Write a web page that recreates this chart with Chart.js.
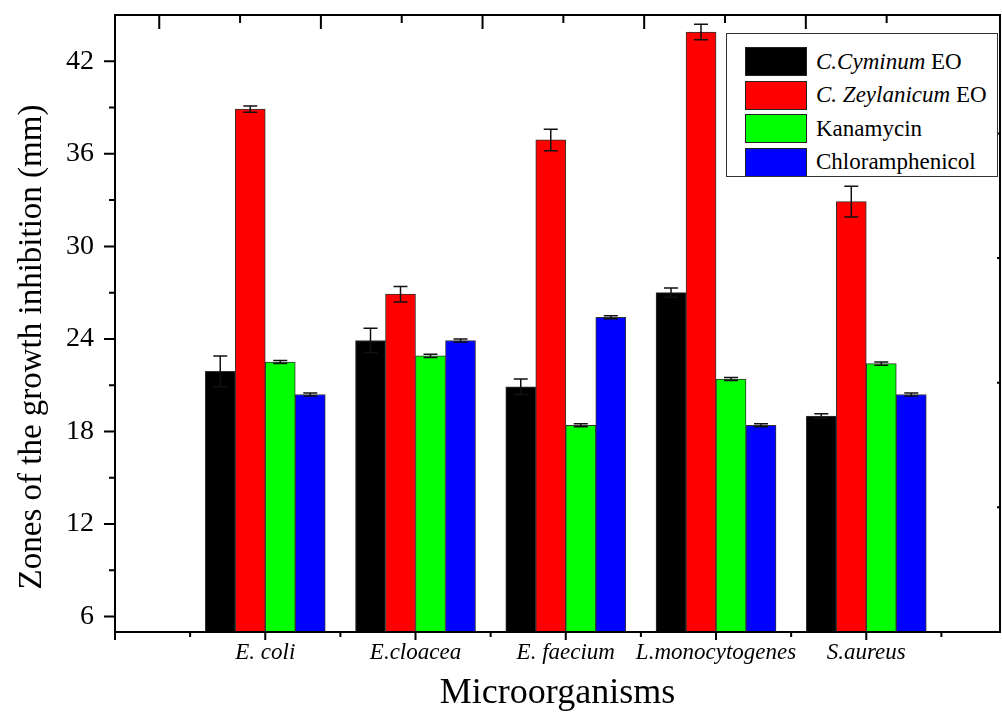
<!DOCTYPE html>
<html lang="en">
<head>
  <meta charset="UTF-8">
  <title>Zones of the growth inhibition</title>
  <script src="https://cdn.jsdelivr.net/npm/chart.js"></script>
  <style>
    body { margin: 0; background: #fff; }
    #wrap { position: relative; width: 1002px; height: 712px; overflow: hidden; }
    #chart { display: block; }
    #legend { position: absolute; left: 726px; top: 33px; width: 272px; height: 144px; box-sizing: border-box;
              border: 1px solid #333; background: #fff; overflow: hidden;
              font-family: 'Liberation Serif', 'Times New Roman', serif; font-size: 23px; color: #000; }
    .row { position: absolute; left: 18px; height: 29px; display: flex; align-items: center; white-space: nowrap; }
    .sw { width: 62px; height: 29px; box-sizing: border-box; border: 1.5px solid #222; margin-right: 9px; }
  </style>
</head>
<body>
  <div id="wrap">
    <canvas id="chart" width="1002" height="712"></canvas>
    <div id="legend"></div>
  </div>

  <script>
    // data
    const categories = ['E. coli', 'E.cloacea', 'E. faecium', 'L.monocytogenes', 'S.aureus'];
    const seriesLabels = ['<i>C.Cyminum</i> EO', '<i>C. Zeylanicum</i> EO', 'Kanamycin', 'Chloramphenicol'];
    const seriesColors = ['#000000', '#ff0000', '#00ff00', '#0000ff'];

    const cyminum = [21.9, 23.9, 20.9, 27.0, 19.0];
    const cyminumErr = [1.0, 0.8, 0.5, 0.3, 0.15];
    const zeylanicum = [38.9, 26.9, 36.9, 43.9, 32.9];
    const zeylanicumErr = [0.2, 0.5, 0.7, 0.5, 1.0];
    const kanamycin = [22.5, 22.9, 18.4, 21.4, 22.4];
    const kanamycinErr = [0.1, 0.1, 0.1, 0.1, 0.1];
    const chloramphenicol = [20.4, 23.9, 25.4, 18.4, 20.4];
    const chloramphenicolErr = [0.1, 0.1, 0.1, 0.1, 0.1];

    const values = [cyminum, zeylanicum, kanamycin, chloramphenicol];
    const errors = [cyminumErr, zeylanicumErr, kanamycinErr, chloramphenicolErr];

    const yTitle = 'Zones of the growth inhibition (mm)';
    const serif = "'Liberation Serif', 'Times New Roman', serif";

    // html legend, built from the series lists
    const legend = document.getElementById('legend');
    seriesLabels.forEach((lab, i) => {
      const row = document.createElement('div');
      row.className = 'row';
      row.style.top = (13 + i * 33.5) + 'px';
      row.innerHTML = '<span class="sw" style="background:' + seriesColors[i] + '"></span><span>' + lab + '</span>';
      legend.appendChild(row);
    });

    const errorBars = {
      id: 'errorBars',
      afterDatasetsDraw(chart) {
        const ctx = chart.ctx, y = chart.scales.y;
        ctx.save();
        ctx.strokeStyle = '#111';
        ctx.lineWidth = 1.5;
        chart.data.datasets.forEach((ds, i) => {
          chart.getDatasetMeta(i).data.forEach((bar, j) => {
            const v = values[i][j], e = errors[i][j];
            const top = y.getPixelForValue(v + e), bot = y.getPixelForValue(v - e);
            ctx.beginPath();
            ctx.moveTo(bar.x, top); ctx.lineTo(bar.x, bot);
            ctx.moveTo(bar.x - 7, top); ctx.lineTo(bar.x + 7, top);
            ctx.moveTo(bar.x - 7, bot); ctx.lineTo(bar.x + 7, bot);
            ctx.stroke();
          });
        });
        ctx.restore();
      }
    };

    // box round the plot, tick marks taken from the scales, and the y title
    const frame = {
      id: 'frame',
      afterDraw(chart) {
        const { ctx, chartArea: a, scales } = chart;
        ctx.save();
        ctx.strokeStyle = '#000';
        ctx.lineWidth = 2;
        ctx.strokeRect(a.left, a.top, a.right - a.left, a.bottom - a.top);
        ctx.beginPath();
        scales.x.ticks.forEach(t => {
          const p = scales.x.getPixelForValue(t.value);
          const len = Number.isInteger(t.value) ? 8 : 5;
          ctx.moveTo(p, a.bottom); ctx.lineTo(p, a.bottom + len);
        });
        scales.y.ticks.forEach(t => {
          const p = scales.y.getPixelForValue(t.value);
          const len = t.value % 6 === 0 ? 11 : 6;
          ctx.moveTo(a.left - len, p); ctx.lineTo(a.left, p);
        });
        scales.x2.ticks.forEach(t => {
          const p = scales.x2.getPixelForValue(t.value);
          const len = t.value % 2 === 0 ? 14 : 8;
          ctx.moveTo(p, a.top); ctx.lineTo(p, a.top + len);
        });
        scales.y2.ticks.forEach(t => {
          if (t.value <= 0) return;
          const p = scales.y2.getPixelForValue(t.value);
          ctx.moveTo(a.right - 3, p); ctx.lineTo(a.right, p);
        });
        ctx.stroke();

        // y title sits a little below the middle of the axis in the original
        ctx.translate(41, 347);
        ctx.rotate(-Math.PI / 2);
        ctx.fillStyle = '#000';
        ctx.font = '33px ' + serif;
        ctx.textAlign = 'center';
        ctx.textBaseline = 'alphabetic';
        ctx.fillText(yTitle, 0, 0);
        ctx.restore();
      }
    };

    new Chart(document.getElementById('chart'), {
      type: 'bar',
      data: {
        datasets: values.map((vals, i) => ({
          label: seriesLabels[i].replace(/<[^>]+>/g, ''),
          data: vals.map((v, j) => ({ x: j + 1, y: v })),
          backgroundColor: seriesColors[i],
          borderColor: '#333',
          borderWidth: 1,
          barThickness: 30
        }))
      },
      options: {
        responsive: false,
        animation: false,
        layout: { padding: { top: 15, right: 2, left: 0, bottom: 0 } },
        plugins: { legend: { display: false }, tooltip: { enabled: false } },
        scales: {
          x: {
            type: 'linear', min: 0, max: 5.89, offset: false,
            grid: { display: false, drawTicks: false }, border: { display: false },
            ticks: {
              stepSize: 0.5, includeBounds: false, autoSkip: false, maxRotation: 0, padding: 7,
              color: '#000', font: { family: serif, size: 23, style: 'italic' },
              callback: v => (Number.isInteger(v) && v >= 1 && v <= categories.length) ? categories[v - 1] : ''
            },
            title: { display: true, text: 'Microorganisms', color: '#000', padding: 0,
                     font: { family: serif, size: 36, lineHeight: 1 } },
            afterFit: s => { s.height = 80; s.paddingLeft = 0; s.paddingRight = 0; }
          },
          y: {
            min: 5, max: 45,
            grid: { display: false, drawTicks: false }, border: { display: false },
            ticks: {
              stepSize: 3, includeBounds: false, padding: 21, color: '#000',
              font: { family: serif, size: 28 },
              callback: v => v % 6 === 0 ? v : ''
            },
            afterBuildTicks: s => { s.ticks = s.ticks.filter(t => t.value >= 6 && t.value <= 42); },
            afterFit: s => { s.width = 115; s.paddingTop = 0; s.paddingBottom = 0; }
          },
          x2: {
            type: 'linear', position: 'top', display: false, min: 0, max: 9.855,
            ticks: { stepSize: 1, includeBounds: false }
          },
          y2: {
            type: 'linear', position: 'right', display: false, min: 0, max: 4.95,
            ticks: { stepSize: 1, includeBounds: false }
          }
        }
      },
      plugins: [errorBars, frame]
    });
  </script>
</body>
</html>
